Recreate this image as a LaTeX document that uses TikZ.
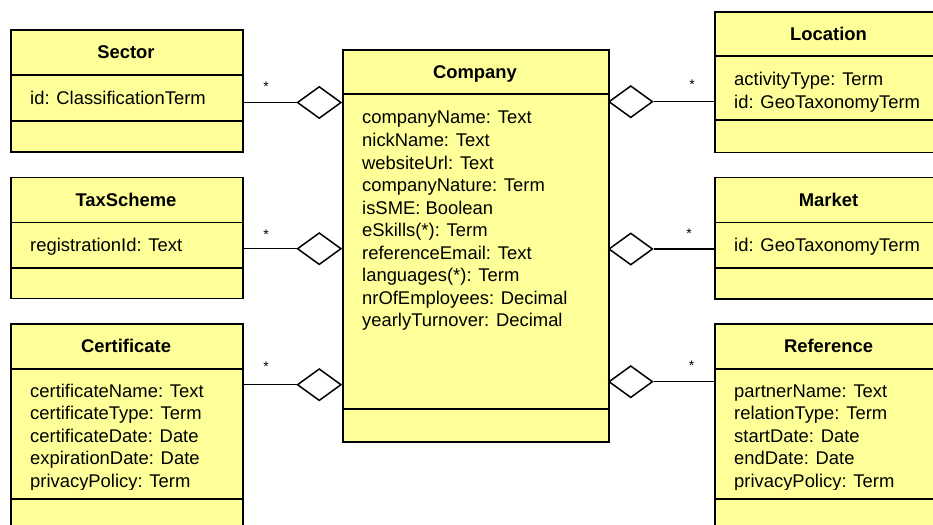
\documentclass[tikz,border=0pt]{standalone}
\usepackage{fontspec}
\setmainfont{Liberation Sans}
\usetikzlibrary{shapes.geometric}
\definecolor{classfill}{RGB}{255,255,153}
\begin{document}
\begin{tikzpicture}[x=1pt,y=-1pt,
  box/.style={draw=black, line width=1.6pt, fill=classfill, inner sep=0pt, anchor=north west},
  sepline/.style={line width=1.6pt},
  title/.style={font=\fontsize{18.4}{22}\selectfont\bfseries, inner sep=0pt, anchor=base},
  attr/.style={font=\fontsize{18.4}{22}\selectfont, inner sep=0pt, anchor=base west},
  dia/.style={diamond, draw=black, line width=1.5pt, fill=white, minimum width=44pt, minimum height=32pt, inner sep=0pt},
  conn/.style={line width=1.5pt},
  mult/.style={font=\fontsize{14}{14}\selectfont, inner sep=0pt, anchor=base}]
\useasboundingbox (0,0) rectangle (933,524);
\clip (0,0) rectangle (933,524);
\fill[white] (0,0) rectangle (933,524);

% ---------- Company ----------
\node[box, minimum width=266pt, minimum height=392pt] (company) at (342,49) {};
\draw[sepline] (company.west |- 0,94) -- (company.east |- 0,94);
\draw[sepline] (company.west |- 0,409) -- (company.east |- 0,409);
\node[title] (companyT) at (475,78.1) {Company};
\foreach \t [count=\i from 0] in {companyName: Text, nickName: Text, websiteUrl: Text, companyNature: Term, isSME: Boolean, eSkills(*): Term, referenceEmail: Text, languages(*): Term, nrOfEmployees: Decimal, yearlyTurnover: Decimal}
  \node[attr] (companyA\i) at (362,124+22.5*\i) {\t};

% ---------- Sector ----------
\node[box, minimum width=232pt, minimum height=121.5pt] (sector) at (10,29.5) {};
\draw[sepline] (sector.west |- 0,75) -- (sector.east |- 0,75);
\draw[sepline] (sector.west |- 0,120.7) -- (sector.east |- 0,120.7);
\node[title] (sectorT) at (126,58.9) {Sector};
\node[attr] (sectorA0) at (30,105) {id: ClassificationTerm};

% ---------- TaxScheme ----------
\node[box, minimum width=232pt, minimum height=121pt] (tax) at (10,176.7) {};
\draw[sepline] (tax.west |- 0,222.3) -- (tax.east |- 0,222.3);
\draw[sepline] (tax.west |- 0,267.7) -- (tax.east |- 0,267.7);
\node[title] (taxT) at (126,206.1) {TaxScheme};
\node[attr] (taxA0) at (30,251) {registrationId: Text};

% ---------- Certificate ----------
\node[box, minimum width=232pt, minimum height=220pt] (cert) at (10,323.3) {};
\draw[sepline] (cert.west |- 0,369) -- (cert.east |- 0,369);
\draw[sepline] (cert.west |- 0,499) -- (cert.east |- 0,499);
\node[title] (certT) at (126,352.8) {Certificate};
\begin{scope}
\clip (10,369) rectangle (242,489);
\foreach \t [count=\i from 0] in {certificateName: Text, certificateType: Term, certificateDate: Date, expirationDate: Date, privacyPolicy: Term}
  \node[attr] (certA\i) at (30,397.3+22.5*\i) {\t};
\end{scope}

% ---------- Location ----------
\node[box, minimum width=229pt, minimum height=140.7pt] (loc) at (714,11) {};
\draw[sepline] (loc.west |- 0,56) -- (loc.east |- 0,56);
\draw[sepline] (loc.west |- 0,120) -- (loc.east |- 0,120);
\node[title] (locT) at (828.5,40.1) {Location};
\node[attr] (locA0) at (734,85.7) {activityType: Term};
\node[attr] (locA1) at (734,108.2) {id: GeoTaxonomyTerm};

% ---------- Market ----------
\node[box, minimum width=229pt, minimum height=121.3pt] (market) at (714,176.7) {};
\draw[sepline] (market.west |- 0,222.3) -- (market.east |- 0,222.3);
\draw[sepline] (market.west |- 0,267.7) -- (market.east |- 0,267.7);
\node[title] (marketT) at (828.5,206.1) {Market};
\node[attr] (marketA0) at (734,251.5) {id: GeoTaxonomyTerm};

% ---------- Reference ----------
\node[box, minimum width=229pt, minimum height=220pt] (ref) at (714,323.3) {};
\draw[sepline] (ref.west |- 0,369) -- (ref.east |- 0,369);
\draw[sepline] (ref.west |- 0,499) -- (ref.east |- 0,499);
\node[title] (refT) at (828.5,352.8) {Reference};
\begin{scope}
\clip (714,369) rectangle (943,489);
\foreach \t [count=\i from 0] in {partnerName: Text, relationType: Term, startDate: Date, endDate: Date, privacyPolicy: Term}
  \node[attr] (refA\i) at (734,397.3+22.5*\i) {\t};
\end{scope}

% ---------- aggregations ----------
\node[dia, anchor=east] (dSector) at (342,102.5) {};
\node[dia, anchor=east] (dTax) at (342,248.7) {};
\node[dia, anchor=east] (dCert) at (342,384.7) {};
\node[dia, anchor=west] (dLoc) at (608,101.7) {};
\node[dia, anchor=west] (dMarket) at (608,249) {};
\node[dia, anchor=west] (dRef) at (608,381.7) {};

\draw[conn] (dSector.west) -- (dSector.west -| sector.east);
\draw[conn] (dTax.west) -- (dTax.west -| tax.east);
\draw[conn] (dCert.west) -- (dCert.west -| cert.east);
\draw[conn] (dLoc.east) -- (dLoc.east -| loc.west);
\draw[conn] (dMarket.east) -- (dMarket.east -| market.west);
\draw[conn] (dRef.east) -- (dRef.east -| ref.west);

\node[mult] (mSector) at (266,91.3) {*};
\node[mult] (mTax) at (266,239) {*};
\node[mult] (mCert) at (266,371) {*};
\node[mult] (mLoc) at (692,90) {*};
\node[mult] (mMarket) at (689,238) {*};
\node[mult] (mRef) at (691.7,370.7) {*};
\end{tikzpicture}
\end{document}
